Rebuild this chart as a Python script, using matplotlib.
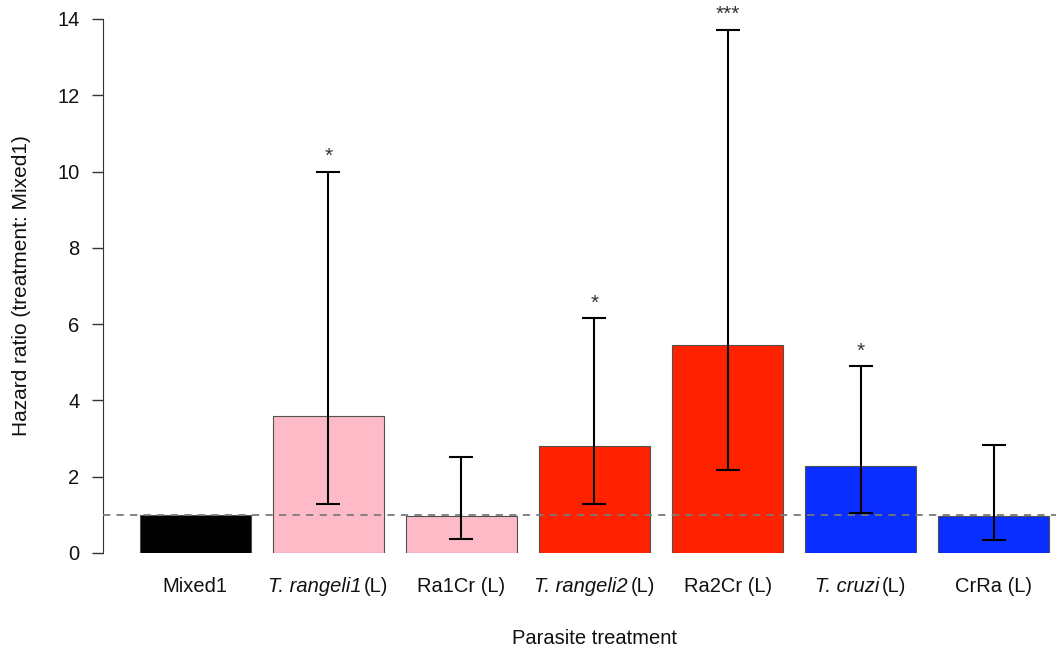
import numpy as np
import matplotlib.pyplot as plt
from matplotlib.offsetbox import TextArea, HPacker, AnnotationBbox

plt.rcParams['font.family'] = ['Liberation Sans', 'DejaVu Sans']

# data
labels = [[('Mixed1', 'normal')],
          [('T. rangeli1', 'italic'), ('(L)', 'normal')],
          [('Ra1Cr (L)', 'normal')],
          [('T. rangeli2', 'italic'), ('(L)', 'normal')],
          [('Ra2Cr (L)', 'normal')],
          [('T. cruzi', 'italic'), ('(L)', 'normal')],
          [('CrRa (L)', 'normal')]]
hazard = [1.0, 3.59, 0.96, 2.80, 5.45, 2.28, 0.96]
ci_low = [np.nan, 1.28, 0.37, 1.28, 2.18, 1.05, 0.34]
ci_high = [np.nan, 10.0, 2.52, 6.15, 13.72, 4.90, 2.83]
signif = ['', '*', '', '*', '***', '*', '']
colours = ['black', '#ffbac8', '#ffbac8', '#ff2200', '#ff2200', '#0a2eff', '#0a2eff']

fs = 14.5
fig = plt.figure(figsize=(10.56, 6.49), dpi=100)
# plot region runs a bit past the right edge, like the cropped original
ax = fig.add_axes([103/1056, 96/649, 984/1056, 534/649])

x = np.arange(len(hazard))
ax.bar(x, hazard, width=0.835, color=colours, edgecolor='#505050', linewidth=0.8, zorder=2)

hz = np.array(hazard)
lo = np.array(ci_low)
hi = np.array(ci_high)
m = ~np.isnan(lo)
ax.errorbar(x[m], hz[m], yerr=[hz[m] - lo[m], hi[m] - hz[m]], fmt='none',
            ecolor='black', elinewidth=1.5, capsize=8.5, capthick=1.5, zorder=4)

ax.axhline(1.0, color='#7a7a7a', linestyle=(0, (4, 3.5)), linewidth=1.3, zorder=3)

for xi, h, s in zip(x, ci_high, signif):
    if s:
        ax.annotate(s, (xi, h), xytext=(0, 4), textcoords='offset points',
                    ha='center', va='bottom', fontsize=15, color='#333333')

# category labels with italic species names
for xi, parts in zip(x, labels):
    areas = [TextArea(t, textprops=dict(fontsize=fs, fontstyle=st, color='#111111'))
             for t, st in parts]
    box = HPacker(children=areas, align='baseline', pad=0, sep=2)
    ab = AnnotationBbox(box, (xi, 0), xybox=(0, -24), xycoords='data',
                        boxcoords='offset points', frameon=False,
                        box_alignment=(0.5, 0.5), annotation_clip=False)
    ax.add_artist(ab)

ax.set_xlim(-0.692, 6.70)
ax.set_ylim(0, 14)
ax.set_yticks(np.arange(0, 15, 2))
ax.set_xticks([])
ax.tick_params(axis='y', length=8, width=1, labelsize=fs, pad=9, color='#333333',
               labelcolor='#111111')

for sp in ['top', 'right', 'bottom']:
    ax.spines[sp].set_visible(False)
ax.spines['left'].set_color('#333333')

ax.set_ylabel('Hazard ratio (treatment: Mixed1)', fontsize=15, color='#111111')
ax.yaxis.label.set_va('center')
ax.yaxis.set_label_coords(-81/984, 0.5)
ax.set_xlabel('Parasite treatment', fontsize=fs, color='#111111')
ax.xaxis.label.set_va('baseline')
ax.xaxis.set_label_coords(0.5, -91/534)

fig.savefig('out.png', dpi=100)
